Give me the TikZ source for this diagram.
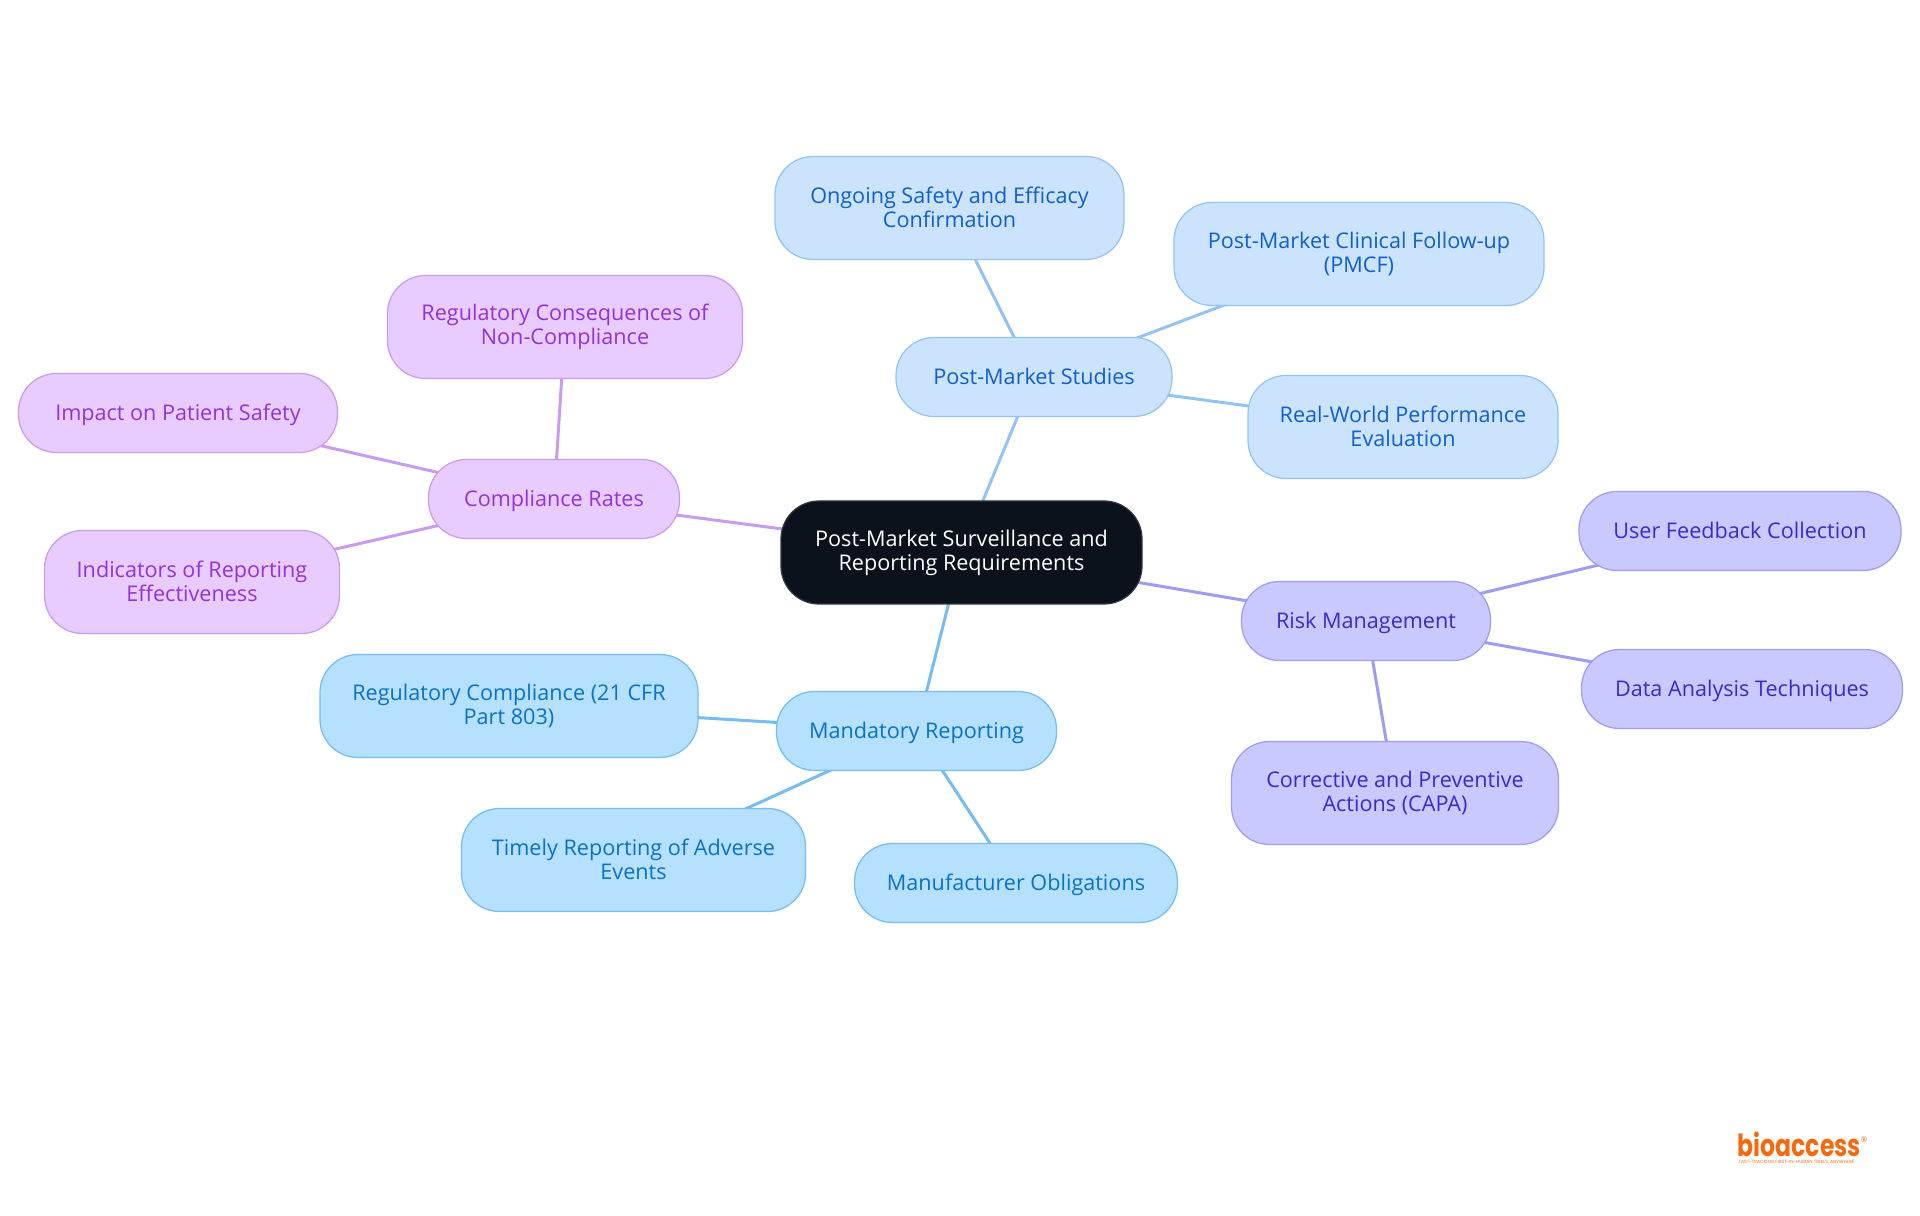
\documentclass[tikz,border=0pt]{standalone}
\usepackage{fontspec}
\setmainfont{Open Sans}
\newfontfamily\logofont{Poppins}
\usetikzlibrary{positioning,backgrounds}
\definecolor{rootfill}{HTML}{0B121B}
\definecolor{rootline}{HTML}{30363E}
\definecolor{studyfill}{HTML}{CCE3FD}
\definecolor{studyline}{HTML}{93C3F5}
\definecolor{studytext}{HTML}{1060C8}
\definecolor{riskfill}{HTML}{C9C9FF}
\definecolor{riskline}{HTML}{9D9BF2}
\definecolor{risktext}{HTML}{3A2BC8}
\definecolor{mandfill}{HTML}{B5E0FF}
\definecolor{mandline}{HTML}{74BCF2}
\definecolor{mandtext}{HTML}{0A72C4}
\definecolor{compfill}{HTML}{E8CCFF}
\definecolor{compline}{HTML}{C99BF0}
\definecolor{comptext}{HTML}{9333D6}
\definecolor{logoorange}{HTML}{F26A12}
\tikzset{
  topic/.style={rounded corners=0.38cm,line width=0.35pt,align=center,inner sep=0pt,
    font=\fontsize{6.15}{6.8}\selectfont,
    execute at begin node={\rule{0pt}{0.2cm}}},
  rootnode/.style={topic,fill=rootfill,draw=rootline,text=white},
  study/.style={topic,fill=studyfill,draw=studyline,text=studytext},
  risk/.style={topic,fill=riskfill,draw=riskline,text=risktext},
  mand/.style={topic,fill=mandfill,draw=mandline,text=mandtext},
  comp/.style={topic,fill=compfill,draw=compline,text=comptext},
  tall/.style={minimum height=1.03cm,execute at end node={\rule[-0.02cm]{0pt}{0.02cm}}},
  flat/.style={minimum height=0.79cm,execute at end node={\rule[-0.05cm]{0pt}{0.05cm}}},
  link/.style={line width=0.85pt}
}
\begin{document}
\begin{tikzpicture}
  \useasboundingbox (0,0) rectangle (19.2,12.15);

  % centre
  \node[rootnode,tall,minimum width=3.61cm] (surv) at (9.615,6.625)
    {Post-Market Surveillance and\\Reporting Requirements};

  % post-market studies
  \node[study,flat,minimum width=2.76cm] (studies) at (10.34,8.38) {Post-Market Studies};
  \node[study,tall,minimum width=3.49cm] (safety) at (9.495,10.07)
    {Ongoing Safety and Efficacy\\Confirmation};
  \node[study,tall,minimum width=3.70cm] (pmcf) at (13.59,9.61)
    {Post-Market Clinical Follow-up\\(PMCF)};
  \node[study,tall,minimum width=3.10cm] (realworld) at (14.03,7.88)
    {Real-World Performance\\Evaluation};

  % risk management
  \node[risk,flat,minimum width=2.49cm] (riskmgmt) at (13.66,5.94) {Risk Management};
  \node[risk,flat,minimum width=3.22cm] (feedback) at (17.40,6.84) {User Feedback Collection};
  \node[risk,flat,minimum width=3.21cm] (analysis) at (17.42,5.26) {Data Analysis Techniques};
  \node[risk,tall,minimum width=3.27cm] (capa) at (13.95,4.22)
    {Corrective and Preventive\\Actions (CAPA)};

  % mandatory reporting
  \node[mand,flat,minimum width=2.80cm] (mandatory) at (9.165,4.84) {Mandatory Reporting};
  \node[mand,tall,minimum width=3.78cm] (cfr) at (5.09,5.09)
    {Regulatory Compliance (21 CFR\\Part 803)};
  \node[mand,tall,minimum width=3.44cm] (timely) at (6.335,3.55)
    {Timely Reporting of Adverse\\Events};
  \node[mand,flat,minimum width=3.23cm] (maker) at (10.16,3.32) {Manufacturer Obligations};

  % compliance rates
  \node[comp,flat,minimum width=2.51cm] (rates) at (5.54,7.16) {Compliance Rates};
  \node[comp,tall,minimum width=3.55cm] (penalty) at (5.65,8.88)
    {Regulatory Consequences of\\Non-Compliance};
  \node[comp,flat,minimum width=3.19cm] (patient) at (1.78,8.02) {Impact on Patient Safety};
  \node[comp,tall,minimum width=2.95cm] (indicators) at (1.92,6.33)
    {Indicators of Reporting\\Effectiveness};

  % connectors go behind the boxes
  \begin{pgfonlayer}{background}
    \draw[link,studyline] (surv.center) -- (studies.center);
    \draw[link,studyline] (studies.center) -- (safety.center);
    \draw[link,studyline] (studies.center) -- (pmcf.center);
    \draw[link,studyline] (studies.center) -- (realworld.center);
    \draw[link,riskline] (surv.center) -- (riskmgmt.center);
    \draw[link,riskline] (riskmgmt.center) -- (feedback.center);
    \draw[link,riskline] (riskmgmt.center) -- (analysis.center);
    \draw[link,riskline] (riskmgmt.center) -- (capa.center);
    \draw[link,mandline] (surv.center) -- (mandatory.center);
    \draw[link,mandline] (mandatory.center) -- (cfr.center);
    \draw[link,mandline] (mandatory.center) -- (timely.center);
    \draw[link,mandline] (mandatory.center) -- (maker.center);
    \draw[link,compline] (surv.center) -- (rates.center);
    \draw[link,compline] (rates.center) -- (penalty.center);
    \draw[link,compline] (rates.center) -- (patient.center);
    \draw[link,compline] (rates.center) -- (indicators.center);
  \end{pgfonlayer}

  % logo
  \node[text=logoorange,inner sep=0pt,anchor=base west,yscale=1.3,transform shape,
    font=\fontsize{6.7}{8}\logofont\bfseries] (logo) at (17.37,0.59) {bioaccess};
  \node[text=logoorange,inner sep=0pt,anchor=west,font=\fontsize{1.3}{2}\logofont]
    (tagline) at (17.38,0.53) {FAST-TRACKING FIRST-IN-HUMAN TRIALS, ANYWHERE};
  \node[text=logoorange,inner sep=0pt,font=\fontsize{2.2}{3}\selectfont]
    (mark) at (18.64,0.75) {®};
\end{tikzpicture}
\end{document}
